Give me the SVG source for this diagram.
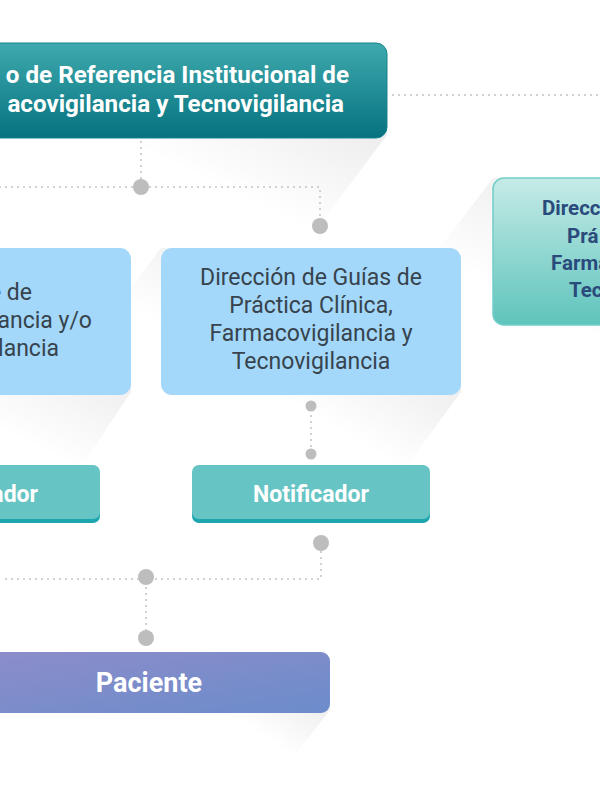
<svg xmlns="http://www.w3.org/2000/svg" width="600" height="800" viewBox="0 0 600 800">
  <defs>
    <linearGradient id="gTop" x1="0" y1="0" x2="0" y2="1">
      <stop offset="0" stop-color="#3ea9ad"/>
      <stop offset="1" stop-color="#06727f"/>
    </linearGradient>
    <linearGradient id="gRight" x1="0" y1="0" x2="0" y2="1">
      <stop offset="0" stop-color="#c6ebe7"/>
      <stop offset="1" stop-color="#5ec4bc"/>
    </linearGradient>
    <linearGradient id="gPac" x1="0" y1="0" x2="1" y2="1">
      <stop offset="0" stop-color="#8d8dc9"/>
      <stop offset="1" stop-color="#6c8ccb"/>
    </linearGradient>
    <linearGradient id="shTop" gradientUnits="userSpaceOnUse" x1="370" y1="130" x2="320" y2="235">
      <stop offset="0" stop-color="#000" stop-opacity="0.07"/>
      <stop offset="1" stop-color="#000" stop-opacity="0"/>
    </linearGradient>
    <linearGradient id="shLeft" gradientUnits="userSpaceOnUse" x1="120" y1="390" x2="80" y2="470">
      <stop offset="0" stop-color="#000" stop-opacity="0.06"/>
      <stop offset="1" stop-color="#000" stop-opacity="0"/>
    </linearGradient>
    <linearGradient id="shMid" gradientUnits="userSpaceOnUse" x1="440" y1="390" x2="395" y2="465">
      <stop offset="0" stop-color="#000" stop-opacity="0.06"/>
      <stop offset="1" stop-color="#000" stop-opacity="0"/>
    </linearGradient>
    <linearGradient id="shRight" gradientUnits="userSpaceOnUse" x1="493" y1="190" x2="455" y2="270">
      <stop offset="0" stop-color="#000" stop-opacity="0.05"/>
      <stop offset="1" stop-color="#000" stop-opacity="0"/>
    </linearGradient>
    <linearGradient id="shPac" gradientUnits="userSpaceOnUse" x1="320" y1="710" x2="290" y2="755">
      <stop offset="0" stop-color="#000" stop-opacity="0.06"/>
      <stop offset="1" stop-color="#000" stop-opacity="0"/>
    </linearGradient>
    <style>
      .dot { stroke: #c2c2c2; stroke-width: 2; stroke-dasharray: 0 6; stroke-linecap: round; fill: none; }
      .pin { fill: #bdbdbd; }
      .wb { font-family: Roboto, "Liberation Sans", sans-serif; font-weight: 700; fill: #ffffff; }
      .dk { font-family: Roboto, "Liberation Sans", sans-serif; font-weight: 400; fill: #37434d; font-size: 23px; }
      .bl { font-family: Roboto, "Liberation Sans", sans-serif; font-weight: 700; fill: #2a4a7c; font-size: 20.5px; }
      .blue { fill: #a3d8fa; }
      .teal { fill: #66c5c4; }
      .tealb { fill: #1da6ae; }
    </style>
  </defs>
  <rect width="600" height="800" fill="#ffffff"/>

  <g id="shadows">
    <polygon points="387,50 387,135 312,235 -375,235 -375,43" fill="url(#shTop)"/>
    <polygon points="131,255 131,392 81,467 -220,467 -220,248" fill="url(#shLeft)"/>
    <polygon points="461,255 461,392 406,467 106,467 106,320 161,248" fill="url(#shMid)"/>
    <polygon points="793,185 793,322 738,397 438,397 438,250 493,178" fill="url(#shRight)"/>
    <polygon points="330,660 330,710 295,755 -50,755 -50,652" fill="url(#shPac)"/>
  </g>

  <g id="connectors">
    <path class="dot" d="M141,142 V182"/>
    <path class="dot" d="M0,187 H320 V222"/>
    <path class="dot" d="M393,95 H600"/>
    <path class="dot" d="M311,410 V450"/>
    <path class="dot" d="M321,546 V579 H0"/>
    <path class="dot" d="M146,582 V634"/>
    <circle class="pin" cx="141" cy="187" r="8"/>
    <circle class="pin" cx="320" cy="226" r="8"/>
    <circle class="pin" cx="311" cy="406" r="5.5"/>
    <circle class="pin" cx="311" cy="454" r="5.5"/>
    <circle class="pin" cx="321" cy="543" r="8"/>
    <circle class="pin" cx="146" cy="577" r="8"/>
    <circle class="pin" cx="146" cy="638" r="8"/>
  </g>

  <g id="node-top">
    <rect x="-300" y="43" width="687" height="95" rx="11" fill="url(#gTop)" stroke="#16858e" stroke-width="1"/>
    <text class="wb" font-size="24.2" x="349" y="83" text-anchor="end">o de Referencia Institucional de</text>
    <text class="wb" font-size="24.2" x="344" y="112" text-anchor="end">acovigilancia y Tecnovigilancia</text>
  </g>

  <g id="node-left">
    <rect class="blue" x="-170" y="248" width="301" height="147" rx="11"/>
    <text class="dk" x="32" y="300" text-anchor="end">e de</text>
    <text class="dk" x="92" y="328" text-anchor="end">ancia y/o</text>
    <text class="dk" x="59" y="356" text-anchor="end">lancia</text>
  </g>

  <g id="node-mid">
    <rect class="blue" x="161" y="248" width="300" height="147" rx="11"/>
    <text class="dk" x="311" y="285" text-anchor="middle">Dirección de Guías de</text>
    <text class="dk" x="311" y="313" text-anchor="middle">Práctica Clínica,</text>
    <text class="dk" x="311" y="341" text-anchor="middle">Farmacovigilancia y</text>
    <text class="dk" x="311" y="369" text-anchor="middle">Tecnovigilancia</text>
  </g>

  <g id="node-right">
    <rect x="493" y="178" width="300" height="147" rx="11" fill="url(#gRight)" stroke="#72cdc6" stroke-width="1.5"/>
    <text class="bl" x="542" y="215">Direcc</text>
    <text class="bl" x="567" y="243">Prá</text>
    <text class="bl" x="551" y="270">Farma</text>
    <text class="bl" x="569" y="297">Tec</text>
  </g>

  <g id="node-notif-left">
    <rect class="tealb" x="-140" y="468" width="240" height="55" rx="7"/>
    <rect class="teal" x="-140" y="465" width="240" height="54" rx="7"/>
    <text class="wb" font-size="23" x="38" y="502" text-anchor="end">ador</text>
  </g>

  <g id="node-notif">
    <rect class="tealb" x="192" y="468" width="238" height="55" rx="7"/>
    <rect class="teal" x="192" y="465" width="238" height="54" rx="7"/>
    <text class="wb" font-size="23" x="311" y="502" text-anchor="middle">Notificador</text>
  </g>

  <g id="node-paciente">
    <rect x="-40" y="652" width="370" height="61" rx="9" fill="url(#gPac)"/>
    <text class="wb" font-size="27" x="149" y="692" text-anchor="middle">Paciente</text>
  </g>
</svg>
